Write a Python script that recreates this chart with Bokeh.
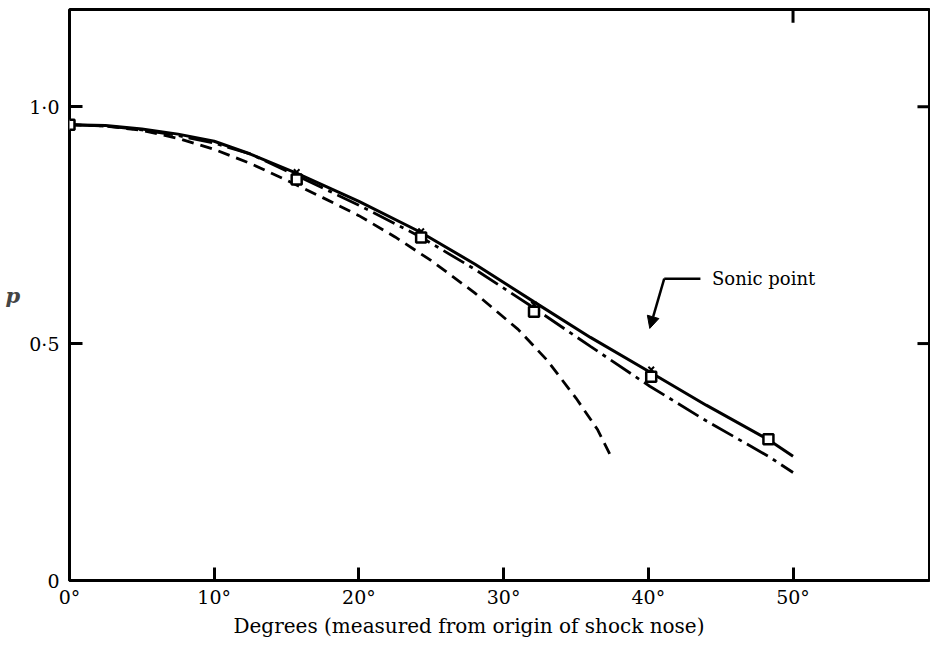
from bokeh.plotting import figure
from bokeh.models import LinearAxis, FixedTicker, Range1d, Label, Arrow, NormalHead, Title
from bokeh.embed import file_html
from bokeh.resources import INLINE

# ---- data ----
deg_solid = [0, 2.5, 5, 7.5, 10, 12.5, 15.8, 20, 24.2, 28, 32.1, 36, 40.1, 44, 48.3, 50]
p_solid = [0.962, 0.960, 0.953, 0.942, 0.927, 0.900, 0.858, 0.800, 0.736, 0.668,
           0.588, 0.513, 0.440, 0.370, 0.297, 0.262]

deg_dashdot = [0, 2.5, 5, 7.5, 10, 12.5, 15.8, 20, 24.2, 28, 32.1, 36, 40.1, 44, 48.3, 50]
p_dashdot = [0.962, 0.959, 0.951, 0.939, 0.923, 0.900, 0.853, 0.792, 0.726, 0.657,
             0.575, 0.494, 0.410, 0.337, 0.262, 0.228]

deg_dashed = [0, 2.5, 5, 7.5, 10, 12.5, 15, 17.5, 20, 22.5, 25, 28, 31, 33, 35, 36.5, 37.5]
p_dashed = [0.962, 0.959, 0.950, 0.933, 0.910, 0.880, 0.845, 0.808, 0.770, 0.725,
            0.675, 0.607, 0.530, 0.465, 0.385, 0.318, 0.257]

deg_square = [0, 15.7, 24.3, 32.1, 40.2, 48.3]
p_square = [0.962, 0.846, 0.724, 0.567, 0.430, 0.298]

deg_cross = [15.7, 24.3, 32.1, 40.2]
p_cross = [0.862, 0.737, 0.582, 0.445]

x_ticks = [0, 10, 20, 30, 40, 50]
x_tick_labels = ["0°", "10°", "20°", "30°", "40°", "50°"]
y_ticks = [0, 0.5, 1.0]
y_tick_labels = ["0", "0·5", "1·0"]
right_ticks = [0.5, 1.0]
top_ticks = [50]

x_title = "Degrees (measured from origin of shock nose)"
y_title = "p"
note_text = "Sonic point"
note_x, note_y = 44.4, 0.637
arrow_corner_x, arrow_corner_y = 41.1, 0.637
arrow_tail_x = 43.6
arrow_tip_x, arrow_tip_y = 40.1, 0.532

X_END, Y_END = 59.5, 1.205
SERIF = "DejaVu Serif"

p = figure(width=930, height=647, output_backend="svg", toolbar_location=None,
           x_range=Range1d(0, X_END), y_range=Range1d(0, Y_END),
           min_border_left=69, min_border_right=0, min_border_top=9, min_border_bottom=67,
           x_axis_location=None, y_axis_location=None)
p.grid.visible = False
p.outline_line_color = "black"
p.outline_line_width = 3
p.background_fill_color = "white"
p.border_fill_color = "white"

def style_axis(ax, ticks, labels):
    ax.ticker = FixedTicker(ticks=ticks)
    ax.axis_line_color = None
    ax.major_tick_in = 13
    ax.major_tick_out = 0
    ax.major_tick_line_width = 3
    ax.major_tick_line_color = "black"
    ax.minor_tick_line_color = None
    ax.major_label_overrides = {t: l for t, l in zip(ticks, labels)}
    ax.major_label_text_font = SERIF
    ax.major_label_text_font_size = "19px"
    ax.major_label_text_color = "black"

bottom = LinearAxis()
style_axis(bottom, x_ticks, x_tick_labels)
bottom.major_label_standoff = 5
p.add_layout(bottom, "below")

left = LinearAxis()
style_axis(left, y_ticks, y_tick_labels)
left.major_label_standoff = 10
left.axis_label = y_title
left.axis_label_orientation = "horizontal"
left.axis_label_text_font = SERIF
left.axis_label_text_font_style = "bold italic"
left.axis_label_text_font_size = "21px"
left.axis_label_standoff = 6
p.add_layout(left, "left")

# x-axis caption, set below the tick labels and a little left of the frame centre
caption = Title(text=x_title, align="left", offset=164, standoff=2,
                text_font=SERIF, text_font_size="20px", text_font_style="normal",
                text_color="black")
p.add_layout(caption, "below")

# inward ticks on the right and top frame edges
tick_dx = 0.9
tick_dy = 0.028
p.segment(x0=[X_END - tick_dx] * len(right_ticks), y0=right_ticks,
          x1=[X_END] * len(right_ticks), y1=right_ticks, line_color="black", line_width=3)
p.segment(x0=top_ticks, y0=[Y_END - tick_dy] * len(top_ticks),
          x1=top_ticks, y1=[Y_END] * len(top_ticks), line_color="black", line_width=3)

# curves
p.line(deg_solid, p_solid, line_color="black", line_width=3)
p.line(deg_dashdot, p_dashdot, line_color="black", line_width=2.8, line_dash="24 6 4 6")
p.line(deg_dashed, p_dashed, line_color="black", line_width=2.8, line_dash="12 7")

p.scatter(deg_cross, p_cross, marker="x", size=8, line_color="black", line_width=2)
p.scatter(deg_square, p_square, marker="square", size=10, line_color="black",
          line_width=2.5, fill_color="white")

# annotation
p.add_layout(Label(x=note_x, y=note_y, text=note_text, text_font=SERIF,
                   text_font_size="18px", text_baseline="middle", text_color="black"))
p.add_layout(Arrow(x_start=arrow_tail_x, y_start=arrow_corner_y,
                   x_end=arrow_corner_x, y_end=arrow_corner_y,
                   end=None, line_width=2.5, line_color="black"))
p.add_layout(Arrow(x_start=arrow_corner_x, y_start=arrow_corner_y,
                   x_end=arrow_tip_x, y_end=arrow_tip_y,
                   end=NormalHead(size=12, fill_color="black", line_color="black"),
                   line_width=2.5, line_color="black"))

open("out.html", "w").write(file_html(p, INLINE))
